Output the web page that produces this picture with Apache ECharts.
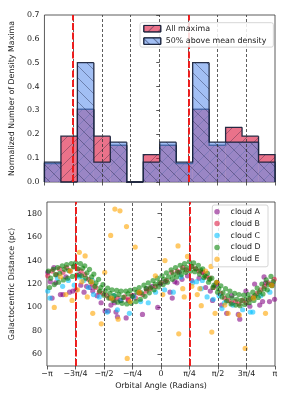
<!DOCTYPE html>
<html><head><meta charset="utf-8">
<script src="https://cdn.jsdelivr.net/npm/echarts@6/dist/echarts.min.js"></script>
<style>html,body{margin:0;padding:0;background:#fff}#c{width:287px;height:402px}</style>
</head><body><div id="c"></div>
<script>
const PI = Math.PI;
// ---- Top panel: histogram (14 bins over [-pi, pi]) ----
const nBins = 14;
const allMaxima = [0.077, 0.192, 0.305, 0.192, 0.154, 0, 0.115, 0.154, 0.077, 0.305, 0.154, 0.229, 0.192, 0.115];
const above50   = [0.083, 0, 0.5, 0.083, 0.167, 0, 0.083, 0.167, 0.083, 0.5, 0.167, 0.167, 0.167, 0.083];
// ---- x ticks ----
const xTickValues = [-PI, -3*PI/4, -PI/2, -PI/4, 0, PI/4, PI/2, 3*PI/4, PI];
const xTickLabels = ['\u2212\u03c0', '\u22123\u03c0/4', '\u2212\u03c0/2', '\u2212\u03c0/4', '0', '\u03c0/4', '\u03c0/2', '3\u03c0/4', '\u03c0'];
const redLines = [-3*PI/4, PI/4];
const dashLines = [-3*PI/4, -PI/2, -PI/4, 0, PI/4, PI/2, 3*PI/4];
// ---- Bottom panel ----
const yTicksBottom = [60, 80, 100, 120, 140, 160, 180];
const cloudA = [[-3.12,130],[-3.05,122],[-3.0,108],[-2.95,134],[-2.9,121],[-2.77,111],[-2.7,111],[-2.62,126],[-2.52,113],[-2.43,114],[-2.34,115],[-2.25,128],[-2.21,119],[-2.12,113],[-2.05,118],[-1.95,117],[-1.88,114],[-1.76,110],[-1.65,104],[-1.54,97],[-1.45,97],[-1.38,102],[-1.28,104],[-1.24,96],[-1.2,92],[-1.12,106],[-0.96,91],[-0.9,106],[-0.75,110],[-0.6,113],[-0.51,94],[-0.4,116],[-0.25,118],[-0.09,100],[-0.02,120],[0.12,122],[0.25,113],[0.31,108],[0.38,122],[0.44,121],[0.5,130],[0.58,124],[0.73,127],[0.85,123],[1.05,125],[1.15,130],[1.23,117],[1.36,114],[1.42,106],[1.5,119],[1.67,102],[1.81,95],[1.95,110],[2.13,94],[2.17,90],[2.34,114],[2.45,101],[2.58,120],[2.72,102],[2.8,105],[2.84,126],[2.88,121],[2.99,105],[3.06,120],[3.13,107]];
const cloudB = [[-3.12,127],[-3.0,131],[-2.88,128],[-2.8,133],[-2.7,130],[-2.6,134],[-2.5,131],[-2.4,135],[-2.3,133],[-2.2,131],[-2.1,128],[-2.0,124],[-1.9,120],[-1.8,117],[-1.7,113],[-1.6,112],[-1.5,110],[-1.4,108],[-1.3,107],[-1.2,108],[-1.1,106],[-1.0,109],[-0.9,107],[-0.8,110],[-0.7,108],[-0.6,112],[-0.5,111],[-0.4,114],[-0.3,116],[-0.15,118],[0,121],[0.15,123],[0.3,130],[0.45,131],[0.6,134],[0.7,132],[0.85,135],[0.95,133],[1.05,131],[1.15,130],[1.25,126],[1.35,125],[1.45,117],[1.55,121],[1.65,112],[1.75,108],[1.85,106],[1.95,104],[2.05,105],[2.15,103],[2.25,106],[2.35,104],[2.45,107],[2.55,109],[2.65,112],[2.75,115],[2.85,118],[2.95,121],[3.05,119],[3.12,124]];
const cloudC = [[-3.12,114],[-3.06,108],[-2.85,125],[-2.71,118],[-2.55,123],[-2.39,119],[-2.25,126],[-2.13,123],[-2.0,117],[-1.89,123],[-1.86,111],[-1.7,109],[-1.48,96],[-1.3,110],[-1.2,98],[-1.11,106],[-0.87,95],[-0.75,109],[-0.56,105],[-0.35,104],[-0.15,113],[0.1,115],[0.34,113],[0.55,126],[0.87,121],[0.98,122],[1.11,116],[1.14,123],[1.27,109],[1.44,107],[1.6,110],[1.68,99],[1.75,104],[1.98,102],[2.25,98],[2.46,96],[2.53,96],[2.75,110],[3.0,113]];
const cloudD = [[-3.10,131],[-2.97,132.5],[-2.85,134],[-2.72,135.5],[-2.60,136.5],[-2.47,137.5],[-2.35,138],[-2.22,137.5],[-2.10,135.5],[-1.97,132.5],[-1.85,128.5],[-1.72,124],[-1.60,119.5],[-1.47,116.5],[-1.35,115],[-1.22,114.5],[-1.10,114],[-0.97,114],[-0.85,114.5],[-0.72,115.5],[-0.60,117],[-0.47,119],[-0.35,121],[-0.22,123],[-0.10,125],[0.03,127],[0.15,129.5],[0.28,132],[0.40,134],[0.53,136],[0.65,137.5],[0.78,139],[0.90,138],[1.03,136],[1.15,133],[1.28,129],[1.40,125],[1.53,121.5],[1.65,118.5],[1.78,116],[1.90,114],[2.03,112],[2.15,111],[2.28,110.5],[2.40,111],[2.53,113],[2.65,116.5],[2.78,120],[2.90,123.5],[3.03,126.5],
[-3.07,117],[-2.94,119.5],[-2.82,121.5],[-2.69,123.5],[-2.57,125],[-2.44,126.5],[-2.32,127.5],[-2.19,127],[-2.07,125],[-1.94,122],[-1.82,118],[-1.69,114],[-1.57,110.5],[-1.44,108],[-1.32,106],[-1.19,104.5],[-1.07,103.5],[-0.94,103],[-0.82,103.5],[-0.69,105],[-0.57,107],[-0.44,109.5],[-0.32,112.5],[-0.19,115],[-0.07,117.5],[0.06,119.5],[0.18,121.5],[0.31,124],[0.43,126],[0.56,128],[0.68,130],[0.81,131],[0.93,130.5],[1.06,128.5],[1.18,125.5],[1.31,121.5],[1.43,117],[1.56,113],[1.68,109],[1.81,105.5],[1.93,103],[2.06,102],[2.18,101.5],[2.31,102.5],[2.43,104],[2.56,106],[2.68,108.5],[2.81,111.5],[2.93,115],[3.06,118.5],
[-3.04,125],[-2.79,129],[-2.54,131.5],[-2.29,133],[-2.04,129.5],[-1.79,121],[-1.54,114],[-1.29,110],[-1.04,108.5],[-0.79,109.5],[-0.54,112.5],[-0.29,117],[-0.04,121.5],[0.21,126],[0.46,130],[0.71,134],[0.96,133],[1.21,127],[1.46,119],[1.71,112.5],[1.96,108],[2.21,106],[2.46,108],[2.71,113],[2.96,119.5],
[-2.91,128],[-2.66,132.5],[-2.41,134.5],[-2.16,133.5],[-1.91,126],[-1.66,117],[-1.41,112],[-1.16,111],[-0.91,111.5],[-0.66,113],[-0.41,116],[-0.16,120],[0.09,124],[0.34,128],[0.59,132],[0.84,135],[1.09,132],[1.34,124],[1.59,116],[1.84,110],[2.09,107],[2.34,107],[2.59,110],[2.84,116],[3.09,122]];
const cloudE = [[-2.94,100],[-2.77,126],[-2.62,111],[-2.5,131],[-2.45,106],[-2.3,115],[-2.25,147],[-2.18,122],[-2.09,144],[-2.03,109],[-1.91,122],[-1.88,95],[-1.645,86],[-1.55,130],[-1.386,161.5],[-1.36,108],[-1.27,184],[-1.18,90],[-1.13,182.5],[-0.95,169],[-0.93,56.5],[-0.85,105],[-0.71,151.5],[-0.6,113],[-0.155,127],[0.05,111],[0.11,140],[0.47,152.5],[0.49,77.5],[0.6,116],[0.64,109],[0.73,143.5],[0.85,118],[1.0,111],[1.07,116],[1.11,101.5],[1.23,131],[1.38,135],[1.4,79],[1.49,95],[1.54,121.5],[1.76,102],[1.85,95],[2.16,93.5],[2.32,65],[2.55,108],[2.88,95],[3.05,119]];

const FONT = 'DejaVu Sans';
const FS = 7.9;
const TXT = '#1a1a1a';
const EDGE = 'rgba(22,32,58,0.92)';

function makeHatch(dir, color) {
  const s = 12, c = document.createElement('canvas');
  c.width = s; c.height = s;
  const g = c.getContext('2d');
  g.strokeStyle = color; g.lineWidth = 0.8;
  g.beginPath();
  for (const o of [-s, 0, s]) {
    if (dir === '/') { g.moveTo(o, s); g.lineTo(o + s, 0); }
    else { g.moveTo(o, 0); g.lineTo(o + s, s); }
  }
  g.stroke();
  return c;
}
const hatchRed = makeHatch('/', 'rgba(30,25,55,0.42)');
const hatchBlue = makeHatch('\\', 'rgba(20,25,60,0.48)');

const edges = [];
for (let i = 0; i <= nBins; i++) edges.push(-PI + i * 2 * PI / nBins);
function histData(h) { return h.map((v, i) => [edges[i], edges[i + 1], v]); }

function histRender(heights, fillColor, hatchImg) {
  return function (params, api) {
    const i = params.dataIndex;
    const x0 = api.value(0), x1 = api.value(1), h = api.value(2);
    const bl = api.coord([x0, 0]), tr = api.coord([x1, h]);
    const children = [];
    if (h > 0) {
      const shape = { x: bl[0], y: tr[1], width: tr[0] - bl[0], height: bl[1] - tr[1] };
      children.push({ type: 'rect', shape: shape, style: { fill: fillColor } });
      children.push({ type: 'rect', shape: shape, style: { fill: { image: hatchImg, repeat: 'repeat' } } });
    }
    const hPrev = i > 0 ? heights[i - 1] : 0;
    const pts = [api.coord([x0, hPrev]), api.coord([x0, h]), api.coord([x1, h])];
    if (i === heights.length - 1) pts.push(api.coord([x1, 0]));
    children.push({ type: 'polyline', shape: { points: pts }, style: { stroke: EDGE, lineWidth: 1.3, fill: null } });
    return { type: 'group', children: children };
  };
}

const vlines = {
  silent: true, symbol: ['none', 'none'], label: { show: false }, animation: false,
  data: dashLines.map(v => ({ xAxis: v, lineStyle: { color: '#333', width: 0.8, type: [3, 2] } }))
    .concat(redLines.map(v => ({ xAxis: v, lineStyle: { color: '#f01818', width: 1.9, type: [7, 2.5] } })))
};

const chart = echarts.init(document.getElementById('c'), null, { renderer: 'canvas' });
const axisCommon = {
  axisLine: { show: false }, splitLine: { show: false },
  axisTick: { length: 3.5, lineStyle: { color: '#333', width: 0.8 } }
};
const tickFmt = v => xTickLabels[Math.round(v / (PI / 4)) + 4];

chart.setOption({
  animation: false,
  textStyle: { fontFamily: FONT },
  grid: [
    { left: 40, top: 15, width: 235, height: 167, show: true, borderColor: '#333', borderWidth: 0.8, backgroundColor: 'transparent' },
    { left: 40, top: 202, width: 235, height: 164, show: true, borderColor: '#333', borderWidth: 0.8, backgroundColor: 'transparent' }
  ],
  xAxis: [
    Object.assign({}, axisCommon, { gridIndex: 0, type: 'value', min: -PI, max: PI,
      axisTick: { length: 3.5, customValues: xTickValues, lineStyle: { color: '#333', width: 0.8 } },
      axisLabel: { show: false } }),
    Object.assign({}, axisCommon, { gridIndex: 1, type: 'value', min: -PI, max: PI,
      axisTick: { length: 3.5, customValues: xTickValues, lineStyle: { color: '#333', width: 0.8 } },
      axisLabel: { customValues: xTickValues, formatter: tickFmt, fontSize: FS, color: TXT, margin: 4, fontFamily: FONT },
      name: 'Orbital Angle (Radians)', nameLocation: 'middle', nameGap: 16,
      nameTextStyle: { fontSize: FS, color: TXT, fontFamily: FONT } })
  ],
  yAxis: [
    Object.assign({}, axisCommon, { gridIndex: 0, type: 'value', min: 0, max: 0.7, interval: 0.1,
      axisLabel: { formatter: v => v.toFixed(1), fontSize: FS, color: TXT, margin: 5, fontFamily: FONT },
      name: 'Normalized Number of Density Maxima', nameLocation: 'middle', nameGap: 20,
      nameTextStyle: { fontSize: FS, color: TXT, fontFamily: FONT } }),
    Object.assign({}, axisCommon, { gridIndex: 1, type: 'value', min: 50, max: 190,
      axisTick: { length: 3.5, customValues: yTicksBottom, lineStyle: { color: '#333', width: 0.8 } },
      axisLabel: { customValues: yTicksBottom, fontSize: FS, color: TXT, margin: 5, fontFamily: FONT },
      name: 'Galactocentric Distance (pc)', nameLocation: 'middle', nameGap: 22,
      nameTextStyle: { fontSize: FS, color: TXT, fontFamily: FONT } })
  ],
  legend: [
    { orient: 'vertical', left: 140, top: 22.7, selectedMode: false, z: 10,
      backgroundColor: 'rgba(255,255,255,0.85)', borderColor: '#ccc', borderWidth: 0.8, borderRadius: 2,
      padding: [1.5, 7, 1.5, 3.3], itemGap: 3.4, itemWidth: 17, itemHeight: 6.5,
      textStyle: { fontSize: FS, color: TXT, fontFamily: FONT, lineHeight: 9 },
      data: [
        { name: 'All maxima', icon: 'rect', itemStyle: { borderColor: EDGE, borderWidth: 1,
          decal: { symbol: 'rect', symbolSize: 1, dashArrayX: [1, 0], dashArrayY: [1, 6], rotation: -PI / 4, color: 'rgba(30,25,55,0.4)' } } },
        { name: '50% above mean density', icon: 'rect', itemStyle: { borderColor: EDGE, borderWidth: 1,
          decal: { symbol: 'rect', symbolSize: 1, dashArrayX: [1, 0], dashArrayY: [1, 6], rotation: PI / 4, color: 'rgba(20,25,60,0.45)' } } }
      ] },
    { orient: 'vertical', left: 212.3, top: 205, selectedMode: false, z: 10,
      backgroundColor: 'rgba(255,255,255,0.85)', borderColor: '#ccc', borderWidth: 0.8, borderRadius: 2,
      padding: [2.2, 7.5, 3, 2], itemGap: 2.9, itemWidth: 17, itemHeight: 5.5, icon: 'circle',
      textStyle: { fontSize: FS, color: TXT, fontFamily: FONT, lineHeight: 9 },
      data: ['cloud A', 'cloud B', 'cloud C', 'cloud D', 'cloud E'] }
  ],
  series: [
    { name: 'All maxima', type: 'custom', xAxisIndex: 0, yAxisIndex: 0,
      itemStyle: { color: 'rgba(220,20,60,0.6)' },
      encode: { x: [0, 1], y: 2 }, data: histData(allMaxima),
      renderItem: histRender(allMaxima, 'rgba(220,20,60,0.6)', hatchRed) },
    { name: '50% above mean density', type: 'custom', xAxisIndex: 0, yAxisIndex: 0,
      itemStyle: { color: 'rgba(100,149,237,0.6)' },
      encode: { x: [0, 1], y: 2 }, data: histData(above50),
      renderItem: histRender(above50, 'rgba(100,149,237,0.6)', hatchBlue),
      markLine: vlines },
    { name: 'cloud A', type: 'scatter', xAxisIndex: 1, yAxisIndex: 1, symbolSize: 5.2, data: cloudA, itemStyle: { color: 'rgba(128,0,128,0.72)' } },
    { name: 'cloud B', type: 'scatter', xAxisIndex: 1, yAxisIndex: 1, symbolSize: 5.2, data: cloudB, itemStyle: { color: 'rgba(220,20,60,0.72)' } },
    { name: 'cloud C', type: 'scatter', xAxisIndex: 1, yAxisIndex: 1, symbolSize: 5.2, data: cloudC, itemStyle: { color: 'rgba(0,191,255,0.72)' } },
    { name: 'cloud D', type: 'scatter', xAxisIndex: 1, yAxisIndex: 1, symbolSize: 5.2, data: cloudD, itemStyle: { color: 'rgba(0,128,0,0.72)' } },
    { name: 'cloud E', type: 'scatter', xAxisIndex: 1, yAxisIndex: 1, symbolSize: 5.2, data: cloudE, itemStyle: { color: 'rgba(255,165,0,0.75)' },
      markLine: vlines }
  ]
});
</script>
</body></html>
